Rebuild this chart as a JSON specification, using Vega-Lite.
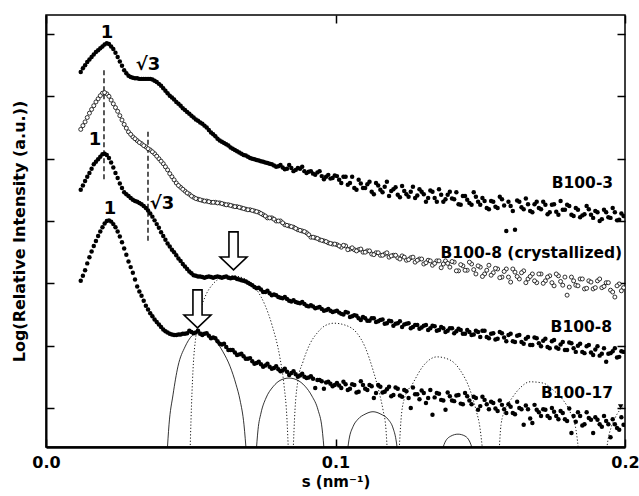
{
  "$schema": "https://vega.github.io/schema/vega-lite/v6.json",
  "width": 579,
  "height": 432,
  "autosize": "none",
  "padding": {"left": 46, "top": 15, "right": 14, "bottom": 49},
  "background": "white",
  "config": {
    "view": {"stroke": "black", "strokeWidth": 1.5},
    "font": "DejaVu Sans",
    "axis": {"grid": false, "tickColor": "black", "domainColor": "black", "labelColor": "black", "titleColor": "black", "labelFont": "DejaVu Sans", "titleFont": "DejaVu Sans"}
  },
  "datasets": {
    "curves": [
      {"s":0.012,"a":5.39,"b":4.47,"c":3.50,"d":2.04},
      {"s":0.0135,"a":5.50,"b":4.59,"c":3.64,"d":2.21},
      {"s":0.015,"a":5.59,"b":4.73,"c":3.77,"d":2.42},
      {"s":0.0165,"a":5.67,"b":4.85,"c":3.91,"d":2.60},
      {"s":0.018,"a":5.74,"b":4.96,"c":3.99,"d":2.76},
      {"s":0.0195,"a":5.80,"b":5.05,"c":4.07,"d":2.90},
      {"s":0.021,"a":5.85,"b":5.04,"c":4.06,"d":3.00},
      {"s":0.0225,"a":5.80,"b":4.94,"c":3.94,"d":2.99},
      {"s":0.024,"a":5.70,"b":4.82,"c":3.77,"d":2.90},
      {"s":0.0255,"a":5.56,"b":4.69,"c":3.60,"d":2.75},
      {"s":0.027,"a":5.42,"b":4.55,"c":3.46,"d":2.56},
      {"s":0.0285,"a":5.33,"b":4.43,"c":3.40,"d":2.35},
      {"s":0.03,"a":5.30,"b":4.35,"c":3.34,"d":2.17},
      {"s":0.0315,"a":5.29,"b":4.29,"c":3.31,"d":1.95},
      {"s":0.033,"a":5.28,"b":4.24,"c":3.27,"d":1.80},
      {"s":0.0345,"a":5.28,"b":4.19,"c":3.21,"d":1.64},
      {"s":0.036,"a":5.28,"b":4.14,"c":3.12,"d":1.52},
      {"s":0.0375,"a":5.25,"b":4.08,"c":3.01,"d":1.42},
      {"s":0.039,"a":5.20,"b":4.00,"c":2.89,"d":1.34},
      {"s":0.0405,"a":5.13,"b":3.92,"c":2.76,"d":1.26},
      {"s":0.042,"a":5.05,"b":3.82,"c":2.64,"d":1.21},
      {"s":0.0435,"a":4.98,"b":3.71,"c":2.54,"d":1.18},
      {"s":0.045,"a":4.91,"b":3.61,"c":2.45,"d":1.17},
      {"s":0.0465,"a":4.85,"b":3.54,"c":2.36,"d":1.18},
      {"s":0.048,"a":4.78,"b":3.48,"c":2.27,"d":1.19},
      {"s":0.0495,"a":4.72,"b":3.43,"c":2.19,"d":1.24},
      {"s":0.051,"a":4.66,"b":3.38,"c":2.13,"d":1.20},
      {"s":0.0525,"a":4.61,"b":3.35,"c":2.11,"d":1.24},
      {"s":0.054,"a":4.56,"b":3.33,"c":2.10,"d":1.17},
      {"s":0.0555,"a":4.50,"b":3.32,"c":2.10,"d":1.20},
      {"s":0.057,"a":4.42,"b":3.30,"c":2.10,"d":1.12},
      {"s":0.0585,"a":4.36,"b":3.30,"c":2.10,"d":1.12},
      {"s":0.06,"a":4.29,"b":3.29,"c":2.10,"d":1.03},
      {"s":0.0615,"a":4.25,"b":3.27,"c":2.10,"d":1.03},
      {"s":0.063,"a":4.21,"b":3.26,"c":2.09,"d":0.93},
      {"s":0.0645,"a":4.16,"b":3.24,"c":2.09,"d":0.93},
      {"s":0.066,"a":4.12,"b":3.23,"c":2.07,"d":0.85},
      {"s":0.0675,"a":4.08,"b":3.21,"c":2.05,"d":0.87},
      {"s":0.069,"a":4.05,"b":3.19,"c":2.03,"d":0.79},
      {"s":0.0705,"a":4.01,"b":3.18,"c":1.99,"d":0.80},
      {"s":0.072,"a":3.99,"b":3.16,"c":1.94,"d":0.71},
      {"s":0.0735,"a":3.97,"b":3.14,"c":1.93,"d":0.74},
      {"s":0.075,"a":3.95,"b":3.10,"c":1.86,"d":0.66},
      {"s":0.0765,"a":3.93,"b":3.05,"c":1.88,"d":0.71},
      {"s":0.078,"a":3.91,"b":3.05,"c":1.81,"d":0.63},
      {"s":0.0795,"a":3.87,"b":3.00,"c":1.81,"d":0.67},
      {"s":0.081,"a":3.90,"b":3.00,"c":1.77,"d":0.59},
      {"s":0.0825,"a":3.83,"b":2.94,"c":1.78,"d":0.63},
      {"s":0.084,"a":3.90,"b":2.92,"c":1.72,"d":0.53},
      {"s":0.0855,"a":3.80,"b":2.90,"c":1.73,"d":0.59},
      {"s":0.087,"a":3.85,"b":2.86,"c":1.69,"d":0.50},
      {"s":0.0885,"a":3.87,"b":2.84,"c":1.70,"d":0.55},
      {"s":0.09,"a":3.77,"b":2.81,"c":1.64,"d":0.48},
      {"s":0.0915,"a":3.80,"b":2.74,"c":1.65,"d":0.51},
      {"s":0.093,"a":3.74,"b":2.73,"c":1.60,"d":0.32},
      {"s":0.0945,"a":3.80,"b":2.70,"c":1.62,"d":0.45},
      {"s":0.096,"a":3.67,"b":2.68,"c":1.56,"d":0.31},
      {"s":0.0975,"a":3.74,"b":2.65,"c":1.59,"d":0.42},
      {"s":0.099,"a":3.69,"b":2.63,"c":1.54,"d":0.35},
      {"s":0.1005,"a":3.72,"b":2.62,"c":1.56,"d":0.40},
      {"s":0.102,"a":3.61,"b":2.58,"c":1.51,"d":0.32},
      {"s":0.1035,"a":3.71,"b":2.60,"c":1.54,"d":0.38},
      {"s":0.105,"a":3.61,"b":2.55,"c":1.46,"d":0.31},
      {"s":0.1065,"a":3.53,"b":2.54,"c":1.49,"d":0.37},
      {"s":0.108,"a":3.66,"b":2.54,"c":1.44,"d":0.26},
      {"s":0.1095,"a":3.53,"b":2.50,"c":1.46,"d":0.37},
      {"s":0.111,"a":3.59,"b":2.52,"c":1.40,"d":0.29},
      {"s":0.1125,"a":3.47,"b":2.47,"c":1.44,"d":0.35},
      {"s":0.114,"a":3.61,"b":2.49,"c":1.38,"d":0.24},
      {"s":0.1155,"a":3.50,"b":2.45,"c":1.41,"d":0.34},
      {"s":0.117,"a":3.55,"b":2.47,"c":1.35,"d":0.26},
      {"s":0.1185,"a":3.40,"b":2.42,"c":1.40,"d":0.34},
      {"s":0.12,"a":3.51,"b":2.45,"c":1.32,"d":0.21},
      {"s":0.1215,"a":3.42,"b":2.41,"c":1.36,"d":0.31},
      {"s":0.123,"a":3.56,"b":2.44,"c":1.30,"d":0.18},
      {"s":0.1245,"a":3.43,"b":2.37,"c":1.35,"d":0.27},
      {"s":0.126,"a":3.47,"b":2.41,"c":1.28,"d":0.00},
      {"s":0.1275,"a":3.37,"b":2.34,"c":1.33,"d":0.22},
      {"s":0.129,"a":3.51,"b":2.39,"c":1.27,"d":0.14},
      {"s":0.1305,"a":3.43,"b":2.31,"c":1.32,"d":0.24},
      {"s":0.132,"a":3.37,"b":2.37,"c":1.25,"d":0.16},
      {"s":0.1335,"a":3.47,"b":2.29,"c":1.32,"d":-0.11},
      {"s":0.135,"a":3.31,"b":2.36,"c":1.24,"d":0.24},
      {"s":0.1365,"a":3.42,"b":2.25,"c":1.30,"d":0.13},
      {"s":0.138,"a":3.35,"b":2.36,"c":1.22,"d":-0.03},
      {"s":0.1395,"a":3.47,"b":2.26,"c":1.28,"d":0.19},
      {"s":0.141,"a":3.35,"b":2.34,"c":1.20,"d":0.11},
      {"s":0.1425,"a":3.27,"b":2.20,"c":1.27,"d":0.21},
      {"s":0.144,"a":3.40,"b":2.28,"c":1.19,"d":0.06},
      {"s":0.1455,"a":3.34,"b":2.21,"c":1.25,"d":0.19},
      {"s":0.147,"a":3.26,"b":2.31,"c":1.17,"d":0.06},
      {"s":0.1485,"a":3.39,"b":2.15,"c":1.24,"d":0.16},
      {"s":0.15,"a":3.26,"b":2.26,"c":1.14,"d":0.03},
      {"s":0.1515,"a":3.32,"b":2.15,"c":1.24,"d":0.13},
      {"s":0.153,"a":3.19,"b":2.29,"c":1.12,"d":-0.02},
      {"s":0.1545,"a":3.31,"b":2.17,"c":1.20,"d":0.08},
      {"s":0.156,"a":3.21,"b":2.23,"c":1.11,"d":-0.05},
      {"s":0.1575,"a":3.35,"b":2.10,"c":1.20,"d":0.05},
      {"s":0.159,"a":2.84,"b":2.23,"c":1.07,"d":-0.08},
      {"s":0.1605,"a":3.24,"b":2.02,"c":1.19,"d":0.02},
      {"s":0.162,"a":2.86,"b":2.18,"c":1.06,"d":-0.10},
      {"s":0.1635,"a":3.31,"b":2.07,"c":1.17,"d":0.00},
      {"s":0.165,"a":3.19,"b":2.20,"c":1.03,"d":-0.27},
      {"s":0.1665,"a":3.27,"b":2.07,"c":1.14,"d":-0.02},
      {"s":0.168,"a":3.14,"b":2.15,"c":1.01,"d":-0.24},
      {"s":0.1695,"a":3.31,"b":2.01,"c":1.12,"d":-0.03},
      {"s":0.171,"a":3.19,"b":2.15,"c":0.99,"d":-0.13},
      {"s":0.1725,"a":3.26,"b":2.04,"c":1.11,"d":-0.03},
      {"s":0.174,"a":3.14,"b":2.12,"c":0.96,"d":-0.16},
      {"s":0.1755,"a":3.27,"b":1.96,"c":1.09,"d":-0.06},
      {"s":0.177,"a":3.10,"b":2.12,"c":0.95,"d":-0.18},
      {"s":0.1785,"a":3.18,"b":1.97,"c":1.06,"d":-0.08},
      {"s":0.18,"a":3.26,"b":1.81,"c":0.93,"d":-0.21},
      {"s":0.1815,"a":3.10,"b":2.10,"c":1.04,"d":-0.40},
      {"s":0.183,"a":3.21,"b":1.97,"c":0.90,"d":-0.22},
      {"s":0.1845,"a":3.06,"b":2.07,"c":1.03,"d":-0.13},
      {"s":0.186,"a":3.11,"b":1.91,"c":0.88,"d":-0.26},
      {"s":0.1875,"a":3.19,"b":2.04,"c":1.01,"d":-0.16},
      {"s":0.189,"a":3.05,"b":1.91,"c":0.85,"d":-0.40},
      {"s":0.1905,"a":3.14,"b":2.04,"c":0.99,"d":-0.19},
      {"s":0.192,"a":3.03,"b":1.93,"c":0.87,"d":-0.30},
      {"s":0.1935,"a":3.14,"b":2.01,"c":0.74,"d":-0.21},
      {"s":0.195,"a":3.05,"b":1.89,"c":0.88,"d":-0.47},
      {"s":0.1965,"a":3.14,"b":1.78,"c":0.96,"d":-0.26},
      {"s":0.198,"a":3.02,"b":1.99,"c":0.82,"d":-0.35},
      {"s":0.1995,"a":3.08,"b":1.93,"c":0.90,"d":-0.27},
      {"s":0.01275,"a":5.45,"b":4.53,"c":3.57,"d":2.12},
      {"s":0.01425,"a":5.55,"b":4.66,"c":3.71,"d":2.32},
      {"s":0.01575,"a":5.63,"b":4.79,"c":3.84,"d":2.51},
      {"s":0.01725,"a":5.71,"b":4.91,"c":3.95,"d":2.68},
      {"s":0.01875,"a":5.77,"b":5.01,"c":4.03,"d":2.83},
      {"s":0.02025,"a":5.83,"b":5.06,"c":4.08,"d":2.96},
      {"s":0.02175,"a":5.84,"b":5.00,"c":4.01,"d":3.01},
      {"s":0.02325,"a":5.76,"b":4.88,"c":3.86,"d":2.95},
      {"s":0.02475,"a":5.63,"b":4.76,"c":3.69,"d":2.83},
      {"s":0.02625,"a":5.49,"b":4.62,"c":3.53,"d":2.66},
      {"s":0.02775,"a":5.37,"b":4.49,"c":3.43,"d":2.46},
      {"s":0.02925,"a":5.31,"b":4.39,"c":3.37,"d":2.26},
      {"s":0.03075,"a":5.29,"b":4.32,"c":3.32,"d":2.06},
      {"s":0.03225,"a":5.28,"b":4.26,"c":3.29,"d":1.87},
      {"s":0.03375,"a":5.28,"b":4.21,"c":3.24,"d":1.72},
      {"s":0.03525,"a":5.28,"b":4.16,"c":3.17,"d":1.58},
      {"s":0.03675,"a":5.27,"b":4.11,"c":3.07,"d":1.47},
      {"s":0.03825,"a":5.23,"b":4.04,"c":2.95,"d":1.38},
      {"s":0.03975,"a":5.17,"b":3.96,"c":2.82,"d":1.30},
      {"s":0.04125,"a":5.09,"b":3.87,"c":2.70,"d":1.23},
      {"s":0.04275,"a":5.01,"b":3.76,"c":2.59,"d":1.19},
      {"s":0.04425,"a":4.95,"b":3.66,"c":2.50,"d":1.17},
      {"s":0.04575,"a":4.88,"b":3.57,"c":2.40,"d":1.18},
      {"s":0.04725,"a":4.81,"b":3.51,"c":2.31,"d":1.19},
      {"s":0.04875,"a":4.75,"b":3.45,"c":2.23,"d":1.20},
      {"s":0.05025,"a":4.69,"b":3.40,"c":2.16,"d":1.22},
      {"s":0.05175,"a":4.63,"b":3.36,"c":2.12,"d":1.21},
      {"s":0.05325,"a":4.58,"b":3.34,"c":2.11,"d":1.19},
      {"s":0.05475,"a":4.53,"b":3.32,"c":2.09,"d":1.19},
      {"s":0.05625,"a":4.46,"b":3.31,"c":2.11,"d":1.16},
      {"s":0.05775,"a":4.39,"b":3.30,"c":2.09,"d":1.13},
      {"s":0.05925,"a":4.32,"b":3.29,"c":2.11,"d":1.07},
      {"s":0.06075,"a":4.27,"b":3.28,"c":2.09,"d":1.02},
      {"s":0.06225,"a":4.23,"b":3.26,"c":2.11,"d":0.98},
      {"s":0.06375,"a":4.18,"b":3.25,"c":2.08,"d":0.93},
      {"s":0.06525,"a":4.14,"b":3.23,"c":2.09,"d":0.89},
      {"s":0.06675,"a":4.10,"b":3.22,"c":2.06,"d":0.86},
      {"s":0.06825,"a":4.06,"b":3.20,"c":2.04,"d":0.83},
      {"s":0.06975,"a":4.03,"b":3.18,"c":2.01,"d":0.79},
      {"s":0.07125,"a":4.00,"b":3.17,"c":1.97,"d":0.75},
      {"s":0.07275,"a":3.98,"b":3.15,"c":1.92,"d":0.72},
      {"s":0.07425,"a":3.96,"b":3.12,"c":1.90,"d":0.70},
      {"s":0.07575,"a":3.94,"b":3.08,"c":1.86,"d":0.68},
      {"s":0.07725,"a":3.92,"b":3.05,"c":1.84,"d":0.66},
      {"s":0.07875,"a":3.89,"b":3.03,"c":1.82,"d":0.64},
      {"s":0.08025,"a":3.88,"b":3.00,"c":1.78,"d":0.62},
      {"s":0.08175,"a":3.86,"b":2.97,"c":1.76,"d":0.60},
      {"s":0.08325,"a":3.84,"b":2.93,"c":1.75,"d":0.58},
      {"s":0.08475,"a":3.85,"b":2.91,"c":1.71,"d":0.56},
      {"s":0.08625,"a":3.82,"b":2.88,"c":1.70,"d":0.54},
      {"s":0.08775,"a":3.84,"b":2.85,"c":1.68,"d":0.52},
      {"s":0.08925,"a":3.80,"b":2.83,"c":1.67,"d":0.50},
      {"s":0.09075,"a":3.79,"b":2.78,"c":1.63,"d":0.49},
      {"s":0.09225,"a":3.76,"b":2.74,"c":1.63,"d":0.47},
      {"s":0.09375,"a":3.78,"b":2.72,"c":1.61,"d":0.45},
      {"s":0.09525,"a":3.72,"b":2.69,"c":1.59,"d":0.43},
      {"s":0.09675,"a":3.71,"b":2.67,"c":1.57,"d":0.41},
      {"s":0.09825,"a":3.68,"b":2.64,"c":1.56,"d":0.39},
      {"s":0.09975,"a":3.73,"b":2.63,"c":1.55,"d":0.37},
      {"s":0.10125,"a":3.66,"b":2.60,"c":1.53,"d":0.36},
      {"s":0.10275,"a":3.71,"b":2.61,"c":1.50,"d":0.42},
      {"s":0.10425,"a":3.58,"b":2.54,"c":1.53,"d":0.29},
      {"s":0.10575,"a":3.71,"b":2.57,"c":1.47,"d":0.38},
      {"s":0.10725,"a":3.50,"b":2.52,"c":1.48,"d":0.25},
      {"s":0.10875,"a":3.60,"b":2.55,"c":1.41,"d":0.43},
      {"s":0.11025,"a":3.53,"b":2.50,"c":1.44,"d":0.31},
      {"s":0.11175,"a":3.63,"b":2.52,"c":1.40,"d":0.37},
      {"s":0.11325,"a":3.43,"b":2.46,"c":1.44,"d":0.16},
      {"s":0.11475,"a":3.57,"b":2.49,"c":1.39,"d":0.37},
      {"s":0.11625,"a":3.46,"b":2.45,"c":1.42,"d":0.25},
      {"s":0.11775,"a":3.63,"b":2.49,"c":1.36,"d":0.30},
      {"s":0.11925,"a":3.48,"b":2.44,"c":1.39,"d":0.19},
      {"s":0.12075,"a":3.54,"b":2.45,"c":1.35,"d":0.33},
      {"s":0.12225,"a":3.38,"b":2.39,"c":1.39,"d":0.20},
      {"s":0.12375,"a":3.48,"b":2.42,"c":1.34,"d":0.29},
      {"s":0.12525,"a":3.39,"b":2.38,"c":1.36,"d":0.16},
      {"s":0.12675,"a":3.55,"b":2.42,"c":1.30,"d":0.33},
      {"s":0.12825,"a":3.41,"b":2.37,"c":1.33,"d":0.22},
      {"s":0.12975,"a":3.47,"b":2.39,"c":1.29,"d":0.28},
      {"s":0.13125,"a":3.31,"b":2.33,"c":1.33,"d":0.08},
      {"s":0.13275,"a":3.49,"b":2.36,"c":1.28,"d":0.29},
      {"s":0.13425,"a":3.37,"b":2.32,"c":1.31,"d":0.17},
      {"s":0.13575,"a":3.51,"b":2.36,"c":1.25,"d":0.23},
      {"s":0.13725,"a":3.31,"b":2.31,"c":1.28,"d":0.12},
      {"s":0.13875,"a":3.42,"b":2.32,"c":1.24,"d":0.25},
      {"s":0.14025,"a":3.36,"b":2.35,"c":1.28,"d":0.12},
      {"s":0.14175,"a":3.46,"b":2.20,"c":1.23,"d":0.20},
      {"s":0.14325,"a":3.26,"b":2.30,"c":1.25,"d":0.07},
      {"s":0.14475,"a":3.40,"b":2.21,"c":1.19,"d":0.24},
      {"s":0.14625,"a":3.29,"b":2.34,"c":1.22,"d":0.12},
      {"s":0.14775,"a":3.46,"b":2.22,"c":1.18,"d":0.18},
      {"s":0.14925,"a":3.31,"b":2.28,"c":1.22,"d":-0.03},
      {"s":0.15075,"a":3.37,"b":2.11,"c":1.24,"d":0.18},
      {"s":0.15225,"a":3.21,"b":2.21,"c":1.14,"d":0.06},
      {"s":0.15375,"a":3.32,"b":2.13,"c":1.19,"d":0.10},
      {"s":0.15525,"a":3.23,"b":2.24,"c":1.10,"d":-0.01},
      {"s":0.15675,"a":3.39,"b":2.09,"c":1.22,"d":0.12},
      {"s":0.15825,"a":3.25,"b":2.19,"c":1.13,"d":-0.02},
      {"s":0.15975,"a":3.31,"b":2.10,"c":1.17,"d":0.06},
      {"s":0.16125,"a":3.16,"b":2.23,"c":1.07,"d":-0.08},
      {"s":0.16275,"a":3.33,"b":2.11,"c":1.16,"d":0.10},
      {"s":0.16425,"a":3.22,"b":2.17,"c":1.06,"d":-0.02},
      {"s":0.16575,"a":3.36,"b":2.01,"c":1.11,"d":0.04},
      {"s":0.16725,"a":3.16,"b":2.11,"c":1.01,"d":-0.17},
      {"s":0.16875,"a":3.27,"b":2.04,"c":1.13,"d":0.05},
      {"s":0.17025,"a":3.21,"b":2.15,"c":1.04,"d":-0.07},
      {"s":0.17175,"a":3.31,"b":2.00,"c":1.08,"d":-0.02},
      {"s":0.17325,"a":3.11,"b":2.10,"c":0.98,"d":-0.13},
      {"s":0.17475,"a":3.26,"b":2.01,"c":1.07,"d":0.00},
      {"s":0.17625,"a":3.15,"b":2.15,"c":0.97,"d":-0.13},
      {"s":0.17775,"a":3.32,"b":2.03,"c":1.02,"d":-0.05},
      {"s":0.17925,"a":3.18,"b":2.10,"c":0.93,"d":-0.18},
      {"s":0.18075,"a":3.24,"b":1.94,"c":1.05,"d":-0.01},
      {"s":0.18225,"a":3.08,"b":2.04,"c":0.96,"d":-0.13},
      {"s":0.18375,"a":3.18,"b":1.96,"c":1.00,"d":-0.07},
      {"s":0.18525,"a":3.09,"b":2.07,"c":0.90,"d":-0.28},
      {"s":0.18675,"a":3.24,"b":1.92,"c":0.99,"d":-0.07},
      {"s":0.18825,"a":3.10,"b":2.02,"c":0.89,"d":-0.19},
      {"s":0.18975,"a":3.16,"b":1.93,"c":0.94,"d":-0.15},
      {"s":0.19125,"a":3.00,"b":2.07,"c":0.84,"d":-0.26},
      {"s":0.19275,"a":3.18,"b":1.95,"c":0.96,"d":-0.13},
      {"s":0.19425,"a":3.06,"b":2.01,"c":0.87,"d":-0.26},
      {"s":0.19575,"a":3.21,"b":1.86,"c":0.91,"d":-0.18},
      {"s":0.19725,"a":3.01,"b":1.96,"c":0.81,"d":-0.32},
      {"s":0.19875,"a":3.12,"b":1.88,"c":0.91,"d":-0.15}
    ],
    "arcs": [
      {"arc":"d1","s":0.04974,"y":-0.75},{"arc":"d1","s":0.05009,"y":-0.19},{"arc":"d1","s":0.05078,"y":0.61},{"arc":"d1","s":0.05181,"y":1.17},{"arc":"d1","s":0.05320,"y":1.54},{"arc":"d1","s":0.05492,"y":1.78},{"arc":"d1","s":0.05769,"y":1.99},{"arc":"d1","s":0.06079,"y":2.09},{"arc":"d1","s":0.06459,"y":2.12},{"arc":"d1","s":0.06874,"y":2.07},{"arc":"d1","s":0.07288,"y":1.89},{"arc":"d1","s":0.07565,"y":1.65},{"arc":"d1","s":0.07807,"y":1.33},{"arc":"d1","s":0.08083,"y":0.80},{"arc":"d1","s":0.08221,"y":0.37},{"arc":"d1","s":0.08325,"y":-0.19},{"arc":"d1","s":0.08377,"y":-0.75},
      {"arc":"d2","s":0.08532,"y":-0.75},{"arc":"d2","s":0.08601,"y":-0.03},{"arc":"d2","s":0.08705,"y":0.45},{"arc":"d2","s":0.08877,"y":0.74},{"arc":"d2","s":0.09119,"y":1.03},{"arc":"d2","s":0.09361,"y":1.20},{"arc":"d2","s":0.09637,"y":1.32},{"arc":"d2","s":0.09948,"y":1.36},{"arc":"d2","s":0.10328,"y":1.33},{"arc":"d2","s":0.10743,"y":1.20},{"arc":"d2","s":0.11019,"y":0.98},{"arc":"d2","s":0.11295,"y":0.61},{"arc":"d2","s":0.11503,"y":0.26},{"arc":"d2","s":0.11641,"y":-0.03},{"arc":"d2","s":0.11744,"y":-0.35},{"arc":"d2","s":0.11796,"y":-0.75},
      {"arc":"d3","s":0.12193,"y":-0.75},{"arc":"d3","s":0.12263,"y":-0.19},{"arc":"d3","s":0.12366,"y":0.13},{"arc":"d3","s":0.12677,"y":0.40},{"arc":"d3","s":0.13022,"y":0.67},{"arc":"d3","s":0.13506,"y":0.82},{"arc":"d3","s":0.13955,"y":0.77},{"arc":"d3","s":0.14301,"y":0.61},{"arc":"d3","s":0.14646,"y":0.29},{"arc":"d3","s":0.14853,"y":-0.03},{"arc":"d3","s":0.14991,"y":-0.32},{"arc":"d3","s":0.15095,"y":-0.75},
      {"arc":"d4","s":0.15648,"y":-0.75},{"arc":"d4","s":0.15717,"y":-0.27},{"arc":"d4","s":0.15855,"y":-0.03},{"arc":"d4","s":0.16097,"y":0.16},{"arc":"d4","s":0.16373,"y":0.32},{"arc":"d4","s":0.16718,"y":0.42},{"arc":"d4","s":0.17168,"y":0.40},{"arc":"d4","s":0.17513,"y":0.29},{"arc":"d4","s":0.17858,"y":0.13},{"arc":"d4","s":0.18100,"y":-0.06},{"arc":"d4","s":0.18307,"y":-0.35},{"arc":"d4","s":0.18411,"y":-0.75},
      {"arc":"d5","s":0.19344,"y":-0.75},{"arc":"d5","s":0.19413,"y":-0.51},{"arc":"d5","s":0.19516,"y":-0.32},{"arc":"d5","s":0.19655,"y":-0.16},{"arc":"d5","s":0.19827,"y":-0.03},{"arc":"d5","s":0.20035,"y":0.06},
      {"arc":"s1","s":0.04180,"y":-0.75},{"arc":"s1","s":0.04249,"y":-0.27},{"arc":"s1","s":0.04387,"y":0.21},{"arc":"s1","s":0.04560,"y":0.67},{"arc":"s1","s":0.04801,"y":0.98},{"arc":"s1","s":0.05043,"y":1.16},{"arc":"s1","s":0.05250,"y":1.22},{"arc":"s1","s":0.05527,"y":1.20},{"arc":"s1","s":0.05838,"y":1.09},{"arc":"s1","s":0.06114,"y":0.90},{"arc":"s1","s":0.06356,"y":0.67},{"arc":"s1","s":0.06563,"y":0.38},{"arc":"s1","s":0.06701,"y":0.13},{"arc":"s1","s":0.06839,"y":-0.27},{"arc":"s1","s":0.06926,"y":-0.75},
      {"arc":"s2","s":0.07254,"y":-0.75},{"arc":"s2","s":0.07323,"y":-0.35},{"arc":"s2","s":0.07427,"y":-0.08},{"arc":"s2","s":0.07599,"y":0.16},{"arc":"s2","s":0.07841,"y":0.34},{"arc":"s2","s":0.08117,"y":0.45},{"arc":"s2","s":0.08394,"y":0.48},{"arc":"s2","s":0.08670,"y":0.45},{"arc":"s2","s":0.08946,"y":0.35},{"arc":"s2","s":0.09188,"y":0.19},{"arc":"s2","s":0.09396,"y":-0.03},{"arc":"s2","s":0.09534,"y":-0.32},{"arc":"s2","s":0.09620,"y":-0.75},
      {"arc":"s3","s":0.10397,"y":-0.75},{"arc":"s3","s":0.10466,"y":-0.51},{"arc":"s3","s":0.10604,"y":-0.30},{"arc":"s3","s":0.10777,"y":-0.18},{"arc":"s3","s":0.11019,"y":-0.10},{"arc":"s3","s":0.11295,"y":-0.06},{"arc":"s3","s":0.11572,"y":-0.10},{"arc":"s3","s":0.11813,"y":-0.18},{"arc":"s3","s":0.11986,"y":-0.32},{"arc":"s3","s":0.12090,"y":-0.51},{"arc":"s3","s":0.12159,"y":-0.75},
      {"arc":"s4","s":0.13644,"y":-0.75},{"arc":"s4","s":0.13782,"y":-0.55},{"arc":"s4","s":0.13990,"y":-0.45},{"arc":"s4","s":0.14231,"y":-0.42},{"arc":"s4","s":0.14473,"y":-0.45},{"arc":"s4","s":0.14646,"y":-0.55},{"arc":"s4","s":0.14784,"y":-0.75}
    ],
    "dashes": [
      {"s":0.02003,"y":5.42,"y2":3.63},
      {"s":0.03523,"y":4.43,"y2":2.66}
    ],
    "arrows": [
      {"s":0.06477,"y":2.52},
      {"s":0.05233,"y":1.59}
    ],
    "marker": [
      {"s":0.1985,"y":0.02}
    ],
    "notes": [
      {"s":0.0211,"y":6.02,"t":"1"},
      {"s":0.0352,"y":5.50,"t":"√3"},
      {"s":0.0169,"y":4.30,"t":"1"},
      {"s":0.0401,"y":3.27,"t":"√3"},
      {"s":0.0221,"y":3.19,"t":"1"}
    ],
    "labels": [
      {"s":0.1959,"y":3.61,"t":"B100-3"},
      {"s":0.1990,"y":2.49,"t":"B100-8 (crystallized)"},
      {"s":0.1955,"y":1.30,"t":"B100-8"},
      {"s":0.1959,"y":0.24,"t":"B100-17"}
    ]
  },
  "layer": [
    {
      "data": {"name": "arcs"},
      "transform": [{"filter": "datum.arc[0] == 'd'"}],
      "mark": {"type": "line", "interpolate": "monotone", "clip": true, "stroke": "black", "strokeWidth": 0.9, "strokeDash": [1.2, 2]},
      "encoding": {
        "x": {"field": "s", "type": "quantitative", "scale": {"domain": [0, 0.2], "nice": false, "zero": false},
              "axis": {"orient": "top", "values": [0, 0.1, 0.2], "labels": false, "title": null, "tickSize": -8, "tickWidth": 1.5, "domain": false}},
        "y": {"field": "y", "type": "quantitative", "scale": {"domain": [-0.626, 6.305], "nice": false, "zero": false},
              "axis": {"orient": "right", "values": [0, 1, 2, 3, 4, 5, 6], "labels": false, "title": null, "tickSize": -8, "tickWidth": 1.5, "domain": false}},
        "detail": {"field": "arc"}
      }
    },
    {
      "data": {"name": "arcs"},
      "transform": [{"filter": "datum.arc[0] == 's'"}],
      "mark": {"type": "line", "interpolate": "monotone", "clip": true, "stroke": "black", "strokeWidth": 0.8},
      "encoding": {
        "x": {"field": "s", "type": "quantitative", "scale": {"domain": [0, 0.2], "nice": false, "zero": false}, "axis": null},
        "y": {"field": "y", "type": "quantitative", "scale": {"domain": [-0.626, 6.305], "nice": false, "zero": false}, "axis": null},
        "detail": {"field": "arc"}
      }
    },
    {
      "data": {"name": "dashes"},
      "mark": {"type": "rule", "stroke": "black", "strokeWidth": 1.3, "strokeDash": [5, 3]},
      "encoding": {
        "x": {"field": "s", "type": "quantitative", "scale": {"domain": [0, 0.2], "nice": false, "zero": false}, "axis": null},
        "y": {"field": "y", "type": "quantitative", "scale": {"domain": [-0.626, 6.305], "nice": false, "zero": false}, "axis": null},
        "y2": {"field": "y2"}
      }
    },
    {
      "data": {"name": "curves"},
      "transform": [{"fold": ["a", "c", "d"], "as": ["series", "v"]}],
      "mark": {"type": "point", "shape": "circle", "filled": true, "size": 20, "color": "black", "opacity": 1, "clip": true},
      "encoding": {
        "x": {"field": "s", "type": "quantitative", "scale": {"domain": [0, 0.2], "nice": false, "zero": false},
              "axis": {"orient": "bottom", "values": [0, 0.1, 0.2], "format": ".1f", "labelFontSize": 16, "labelFontWeight": "bold", "labelFlush": false, "labelPadding": 15, "tickSize": -8, "tickWidth": 1.5, "domainWidth": 2.5,
                       "title": "s (nm⁻¹)", "titleFontSize": 15, "titleFontWeight": "bold", "titlePadding": 4}},
        "y": {"field": "v", "type": "quantitative", "scale": {"domain": [-0.626, 6.305], "nice": false, "zero": false},
              "axis": {"orient": "left", "values": [0, 1, 2, 3, 4, 5, 6], "labels": false, "tickSize": -8, "tickWidth": 1.5, "domainWidth": 2,
                       "title": "Log(Relative Intensity (a.u.))", "titleFontSize": 16, "titleFontWeight": "bold", "titlePadding": 18}},
        "detail": {"field": "series"}
      }
    },
    {
      "data": {"name": "curves"},
      "mark": {"type": "point", "shape": "circle", "filled": false, "fill": "white", "fillOpacity": 1, "size": 16, "stroke": "black", "strokeWidth": 0.8, "opacity": 1, "clip": true},
      "encoding": {
        "x": {"field": "s", "type": "quantitative", "scale": {"domain": [0, 0.2], "nice": false, "zero": false}, "axis": null},
        "y": {"field": "b", "type": "quantitative", "scale": {"domain": [-0.626, 6.305], "nice": false, "zero": false}, "axis": null}
      }
    },
    {
      "data": {"name": "marker"},
      "mark": {"type": "point", "shape": "triangle-down", "filled": true, "size": 30, "color": "black", "opacity": 1},
      "encoding": {
        "x": {"field": "s", "type": "quantitative", "scale": {"domain": [0, 0.2], "nice": false, "zero": false}, "axis": null},
        "y": {"field": "y", "type": "quantitative", "scale": {"domain": [-0.626, 6.305], "nice": false, "zero": false}, "axis": null}
      }
    },
    {
      "data": {"name": "arrows"},
      "mark": {"type": "point", "shape": "M-0.24,-1L0.24,-1L0.24,0.32L0.71,0.32L0,1L-0.71,0.32L-0.24,0.32Z", "size": 1444, "filled": true, "fill": "white", "fillOpacity": 1, "stroke": "black", "strokeWidth": 1.6, "opacity": 1},
      "encoding": {
        "x": {"field": "s", "type": "quantitative", "scale": {"domain": [0, 0.2], "nice": false, "zero": false}, "axis": null},
        "y": {"field": "y", "type": "quantitative", "scale": {"domain": [-0.626, 6.305], "nice": false, "zero": false}, "axis": null}
      }
    },
    {
      "data": {"name": "notes"},
      "mark": {"type": "text", "font": "DejaVu Sans", "fontSize": 18, "fontWeight": "bold", "color": "black", "align": "center", "baseline": "middle"},
      "encoding": {
        "x": {"field": "s", "type": "quantitative", "scale": {"domain": [0, 0.2], "nice": false, "zero": false}, "axis": null},
        "y": {"field": "y", "type": "quantitative", "scale": {"domain": [-0.626, 6.305], "nice": false, "zero": false}, "axis": null},
        "text": {"field": "t"}
      }
    },
    {
      "data": {"name": "labels"},
      "mark": {"type": "text", "font": "DejaVu Sans", "fontSize": 15.5, "fontWeight": "bold", "color": "black", "align": "right", "baseline": "middle"},
      "encoding": {
        "x": {"field": "s", "type": "quantitative", "scale": {"domain": [0, 0.2], "nice": false, "zero": false}, "axis": null},
        "y": {"field": "y", "type": "quantitative", "scale": {"domain": [-0.626, 6.305], "nice": false, "zero": false}, "axis": null},
        "text": {"field": "t"}
      }
    }
  ],
  "resolve": {"axis": {"x": "independent", "y": "independent"}}
}
